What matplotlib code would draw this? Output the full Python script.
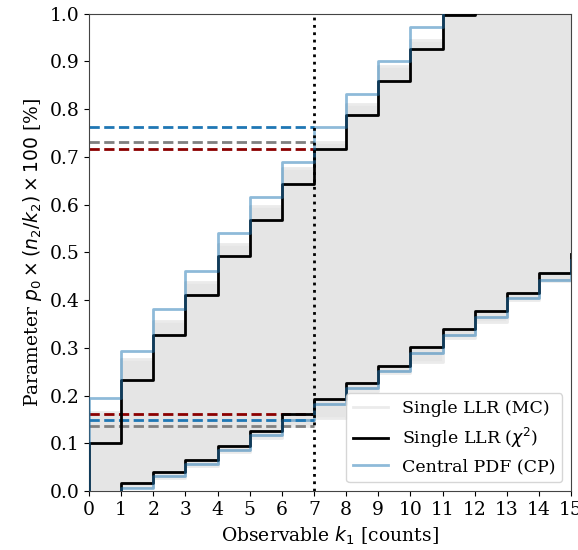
import matplotlib
matplotlib.use('Agg')
import matplotlib.pyplot as plt
import numpy as np

plt.rcParams['font.family'] = 'DejaVu Serif'
plt.rcParams['mathtext.fontset'] = 'dejavusans'
plt.rcParams['font.size'] = 13.5

# upper limits, k = 0, 1, 2, ...
up_chi2 = [0.100, 0.233, 0.327, 0.411, 0.492, 0.568, 0.644, 0.717, 0.788, 0.860, 0.927, 0.997, 1.05]
up_cp = [0.195, 0.294, 0.381, 0.462, 0.541, 0.616, 0.690, 0.763, 0.832, 0.901, 0.973, 1.05]
up_mc = [0.165, 0.277, 0.357, 0.438, 0.518, 0.598, 0.677, 0.732, 0.811, 0.891, 0.945, 1.05, 1.05, 1.05, 1.05, 1.05]

# lower limits, k = 1, 2, ...
lo_chi2 = [0.017, 0.040, 0.065, 0.094, 0.127, 0.161, 0.192, 0.227, 0.263, 0.301, 0.339, 0.377, 0.416, 0.456, 0.497]
lo_cp = [0.007, 0.031, 0.057, 0.086, 0.117, 0.150, 0.182, 0.216, 0.252, 0.290, 0.327, 0.365, 0.404, 0.443, 0.485]
lo_mc = [0.0, 0.008, 0.028, 0.053, 0.082, 0.112, 0.137, 0.153, 0.210, 0.247, 0.270, 0.320, 0.355, 0.400, 0.440, 0.440]

k_obs = 7

fig = plt.figure(figsize=(5.78, 5.5), dpi=100)
ax = fig.add_axes([0.154, 0.107, 0.834, 0.868])

# MC band
x_mc = np.arange(len(up_mc))
ax.fill_between(x_mc, lo_mc, up_mc, step='post', color='#e5e5e5', lw=0)
ax.step(x_mc, up_mc, where='post', color='#ebebeb', lw=2, label='Single LLR (MC)')
ax.step(x_mc, lo_mc, where='post', color='#ebebeb', lw=2)


def upper_line(vals):
    x = np.concatenate([[0], np.arange(len(vals))])
    y = np.concatenate([[0], vals])
    return x, y


def lower_line(vals):
    x = np.concatenate([[1], np.arange(1, len(vals) + 1)])
    y = np.concatenate([[0], vals])
    return x, y


x, y = upper_line(up_chi2)
ax.step(x, y, where='post', color='black', lw=2, label=r'Single LLR ($\chi^2$)', zorder=4)
x, y = lower_line(lo_chi2)
ax.step(x, y, where='post', color='black', lw=2, zorder=4)

x, y = upper_line(up_cp)
ax.step(x, y, where='post', color='#1f77b4', alpha=0.5, lw=2, label='Central PDF (CP)', zorder=5)
x, y = lower_line(lo_cp)
ax.step(x, y, where='post', color='#1f77b4', alpha=0.5, lw=2, zorder=5)

# intervals for the observed count
ax.plot([0, k_obs], [up_cp[k_obs]] * 2, '--', color='#1f77b4', lw=2)
ax.plot([0, k_obs], [up_mc[k_obs]] * 2, '--', color='grey', lw=2)
ax.plot([0, k_obs], [up_chi2[k_obs]] * 2, '--', color='darkred', lw=2)
ax.plot([0, k_obs], [lo_chi2[k_obs - 2]] * 2, '--', color='darkred', lw=2)
ax.plot([0, k_obs], [lo_cp[k_obs - 2]] * 2, '--', color='#1f77b4', lw=2)
ax.plot([0, k_obs], [lo_mc[k_obs - 1]] * 2, '--', color='grey', lw=2)

ax.axvline(k_obs, color='black', ls=':', lw=2, zorder=6)

ax.set_xlim(0, 15)
ax.set_ylim(0, 1)
ax.set_xticks(np.arange(0, 16))
ax.set_yticks(np.arange(0, 1.01, 0.1))
ax.set_xlabel(r'Observable $k_1$ [counts]')
ax.set_ylabel(r'Parameter $p_0 \times (n_2/k_2) \times 100$ [%]')
for s in ax.spines.values():
    s.set_color('#444444')

ax.legend(loc='lower right', framealpha=0.8, fontsize=12.5)

fig.savefig('out.png', dpi=100)
